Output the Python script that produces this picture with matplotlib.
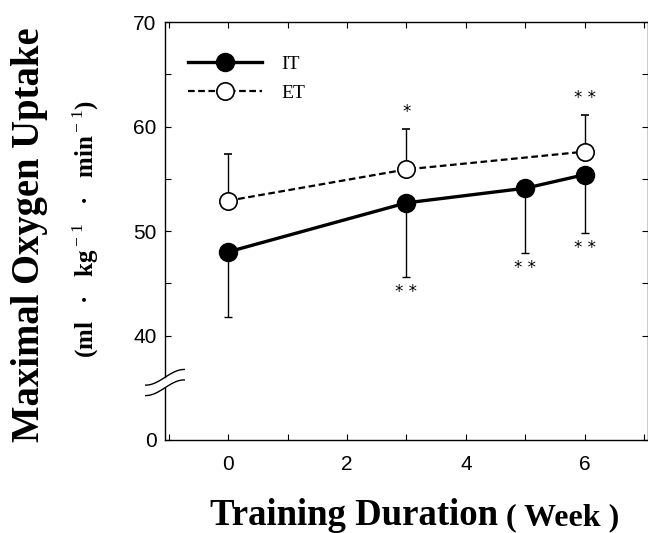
import matplotlib
matplotlib.use("Agg")
import matplotlib.pyplot as plt
from matplotlib.ticker import MultipleLocator, FixedLocator
from matplotlib.lines import Line2D
import numpy as np

# data
it_weeks = [0, 3, 5, 6]
it_mean = [48.0, 52.7, 54.1, 55.4]
it_sd = [6.2, 7.1, 6.2, 5.6]          # drawn downward only
it_stars = ['', '* *', '* *', '* *']

et_weeks = [0, 3, 6]
et_mean = [52.9, 55.9, 57.6]
et_sd = [4.5, 3.9, 3.5]               # drawn upward only
et_stars = ['', '*', '* *']

ytick_vals = [30, 40, 50, 60, 70]
ytick_labels = ['0', '40', '50', '60', '70']
xtick_vals = [0, 2, 4, 6]
break_lo, break_hi = 35.0, 36.0       # the two break strokes on the y axis

serif = 'Liberation Serif'
sans = 'Liberation Sans'
plt.rcParams['mathtext.fontset'] = 'custom'
plt.rcParams['mathtext.rm'] = serif

fig = plt.figure(figsize=(6.48, 5.33), dpi=100)
ax = fig.add_axes([0.2546, 0.1745, 0.7454, 0.7841])

# IT: filled circles, solid line, lower error bars
ax.errorbar(it_weeks, it_mean, yerr=[it_sd, np.zeros(len(it_sd))],
            fmt='-o', color='black', lw=2.4, ms=13, mfc='black', mec='black',
            ecolor='black', elinewidth=1.0, capsize=3, capthick=1.0, zorder=3)
# ET: open circles, dashed line, upper error bars
ax.errorbar(et_weeks, et_mean, yerr=[np.zeros(len(et_sd)), et_sd],
            fmt='--o', color='black', lw=1.6, ms=12.5, mfc='white', mec='black',
            mew=1.2, ecolor='black', elinewidth=1.0, capsize=3, capthick=1.0,
            dashes=(3, 1.6), zorder=4)

for x, m, s, t in zip(it_weeks, it_mean, it_sd, it_stars):
    if t:
        ax.annotate(t, (x, m - s), xytext=(0, -11), textcoords='offset points',
                    ha='center', va='center', fontsize=12, family='DejaVu Sans')
for x, m, s, t in zip(et_weeks, et_mean, et_sd, et_stars):
    if t:
        ax.annotate(t, (x, m + s), xytext=(0, 12), textcoords='offset points',
                    ha='center', va='center', fontsize=12, family='DejaVu Sans')

ax.set_xlim(-1.06, 7.06)
ax.set_ylim(30, 70)
ax.set_xticks(xtick_vals)
ax.xaxis.set_minor_locator(MultipleLocator(1))
ax.set_yticks(ytick_vals)
ax.set_yticklabels(ytick_labels)
ax.yaxis.set_minor_locator(FixedLocator([45, 55, 65]))
ax.tick_params(which='both', direction='in', top=True, right=True,
               length=4, width=0.8)
ax.tick_params(axis='x', pad=11)
ax.tick_params(axis='y', pad=6)
for lab in ax.get_xticklabels() + ax.get_yticklabels():
    lab.set_family(sans)
    lab.set_fontsize(15)
for sp in ax.spines.values():
    sp.set_linewidth(1.0)

# axis break on the left spine: spine split, two wavy strokes
ytr = ax.get_yaxis_transform()
ax.spines['left'].set_bounds(break_hi, 70)
ax.plot([0, 0], [30, break_lo], color='black', lw=1.0, transform=ytr,
        clip_on=False)
t = np.linspace(-1, 1, 40)
for yb in (break_lo, break_hi):
    ax.plot(t * 0.04, yb + 0.75 * np.sin(t * np.pi / 2), color='black',
            lw=1.0, transform=ytr, clip_on=False)

handles = [Line2D([], [], color='black', lw=2.4, marker='o', ms=13,
                  mfc='black', mec='black'),
           Line2D([], [], color='black', lw=1.6, ls='--', dashes=(3, 1.6),
                  marker='o', ms=12.5, mfc='white', mec='black', mew=1.2)]
ax.legend(handles, ['IT', 'ET'], loc='upper left',
          bbox_to_anchor=(0.012, 0.963), frameon=False,
          handlelength=3.8, handletextpad=1.0, labelspacing=0.6,
          prop={'family': serif, 'size': 14})

fig.text(0.046, 0.559, 'Maximal Oxygen Uptake', rotation=90, ha='center',
         va='center', family=serif, weight='bold', fontsize=27.8)
fig.text(0.133, 0.570, r'(ml   ·   kg$^{\rm -1}$   ·   min$^{\rm -1}$)',
         rotation=90, ha='center', va='center', family=serif, weight='bold',
         fontsize=18)

fig.text(0.7685, 0.015, 'Training Duration', ha='right', va='baseline',
         family=serif, weight='bold', fontsize=26.5)
fig.text(0.781, 0.015, '( Week )', ha='left', va='baseline',
         family=serif, weight='bold', fontsize=23)

fig.savefig('out.png', dpi=100)
